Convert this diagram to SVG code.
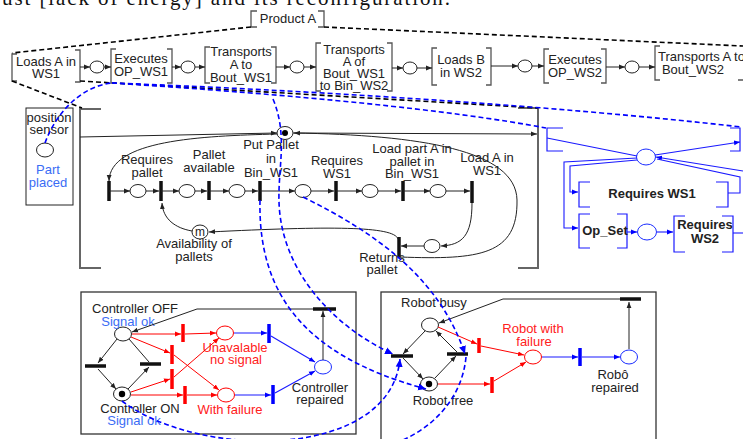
<svg xmlns="http://www.w3.org/2000/svg" width="743" height="439" viewBox="0 0 743 439">
<defs>
<marker id="ak" markerWidth="7" markerHeight="6" refX="6" refY="3" orient="auto" markerUnits="userSpaceOnUse"><path d="M0,0.6 L6,3 L0,5.4z" fill="#222"/></marker>
<marker id="ar" markerWidth="7" markerHeight="6" refX="6" refY="3" orient="auto" markerUnits="userSpaceOnUse"><path d="M0,0.6 L6,3 L0,5.4z" fill="#ff0000"/></marker>
<marker id="ab" markerWidth="7" markerHeight="6" refX="6" refY="3" orient="auto" markerUnits="userSpaceOnUse"><path d="M0,0.6 L6,3 L0,5.4z" fill="#0000ff"/></marker>
<marker id="abd" markerWidth="9" markerHeight="8" refX="8" refY="4" orient="auto" markerUnits="userSpaceOnUse"><path d="M0,0.5 L8,4 L0,7.5z" fill="#0000ff"/></marker>
<style>
text{font-family:"Liberation Sans",Arial,sans-serif;font-size:13px;fill:#222;text-anchor:middle}
.hd{font-family:"Liberation Serif","Times New Roman",serif;font-size:21px;fill:#111;text-anchor:start}
.b{font-weight:bold;fill:#222}
.red{fill:#ff2020}
.lb{fill:#3a6cf5}
.pl{fill:#fff;stroke:#222;stroke-width:1}
.plr{fill:#fff;stroke:#ff0000;stroke-width:1}
.plb{fill:#fff;stroke:#1a2cff;stroke-width:1}
.tk{fill:#000}
.tr{stroke:#111;stroke-width:3.5}
.trr{stroke:#ff0000;stroke-width:3.5}
.trb{stroke:#0000ff;stroke-width:3.5}
.ln{fill:none;stroke:#222;stroke-width:1}
.lr{fill:none;stroke:#ff0000;stroke-width:1}
.lbl{fill:none;stroke:#1a1aff;stroke-width:1.1}
.br{fill:none;stroke:#555;stroke-width:1.3}
.gb{fill:none;stroke:#666;stroke-width:2}
.bb{fill:none;stroke:#1a1aff;stroke-width:1.2}
.box{fill:none;stroke:#333;stroke-width:1.3}
.dk{fill:none;stroke:#000;stroke-width:1.6;stroke-dasharray:5 3}
.db{fill:none;stroke:#0000ff;stroke-width:1.6;stroke-dasharray:5 3}
</style>
</defs>
<rect width="743" height="439" fill="#fff"/>
<text class="hd" x="2" y="5" textLength="448" lengthAdjust="spacing">ust [lack of energy] and its reconfiguration.</text>

<!-- top macro node -->
<g id="product-a">
<path class="br" d="M257,11 H251 V27 H257 M318,11 H324 V27 H318"/>
<text x="288" y="23">Product A</text>
</g>

<!-- top row -->
<g id="n-loadsA">
<path class="br" d="M17,54 H12 V81 H17 M75,50 H80 V82 H75"/>
<text x="46" y="66">Loads A in</text><text x="46" y="78">WS1</text>
</g>
<g id="p-top1"><ellipse class="pl" cx="97" cy="67" rx="7" ry="6"/></g>
<g id="n-execWS1">
<path class="br" d="M116,49 H111 V83 H116 M167,49 H172 V83 H167"/>
<text x="141" y="63">Executes</text><text x="141" y="76">OP_WS1</text>
</g>
<g id="p-top2"><ellipse class="pl" cx="188" cy="67" rx="7" ry="6"/></g>
<g id="n-transA">
<path class="br" d="M210,47 H205 V83 H210 M271,47 H276 V83 H271"/>
<text x="241" y="56">Transports</text><text x="241" y="69">A to</text><text x="241" y="82">Bout_WS1</text>
</g>
<g id="p-top3"><ellipse class="pl" cx="297" cy="67" rx="7" ry="6"/></g>
<g id="n-transAof">
<path class="br" d="M321,43 H316 V91 H321 M387,43 H392 V91 H387"/>
<text x="354" y="54">Transports</text><text x="354" y="66">A of</text><text x="354" y="78">Bout_WS1</text><text x="354" y="90">to Bin_WS2</text>
</g>
<g id="p-top4"><ellipse class="pl" cx="410" cy="68" rx="7" ry="6"/></g>
<g id="n-loadsB">
<path class="br" d="M437,48 H432 V85 H437 M486,48 H491 V85 H486"/>
<text x="461" y="64">Loads B</text><text x="461" y="77">in WS2</text>
</g>
<g id="p-top5"><ellipse class="pl" cx="525" cy="66" rx="7" ry="6"/></g>
<g id="n-execWS2">
<path class="br" d="M549,49 H544 V83 H549 M601,49 H606 V83 H601"/>
<text x="575" y="64">Executes</text><text x="575" y="77">OP_WS2</text>
</g>
<g id="p-top6"><ellipse class="pl" cx="632" cy="67" rx="7" ry="6"/></g>
<g id="n-transA2">
<path class="br" d="M660,46 H655 V80 H660 M738,80 H743"/>
<text x="658" y="61" style="text-anchor:start">Transports A to</text><text x="693" y="74">Bout_WS2</text>
</g>

<!-- Loads A in WS1 subnet -->
<g id="subnet-loadsA">
<path class="gb" d="M101,109 H80 V268 H101 M518,108 H538 V268 H518"/>
</g>
<g id="sensor">
<rect x="26" y="108" width="47" height="97" fill="none" stroke="#222" stroke-width="1"/>
<text x="49" y="122">position</text><text x="49" y="134">sensor</text>
<ellipse class="pl" cx="45" cy="150" rx="8.5" ry="7"/>
<text class="lb" x="48" y="174">Part</text><text class="lb" x="48" y="187">placed</text>
</g>
<g id="t0"><line class="tr" x1="109" y1="181" x2="109" y2="201"/></g>
<g id="p-req-pallet"><ellipse class="pl" cx="138" cy="191" rx="8" ry="6.5"/><text x="147" y="164">Requires</text><text x="147" y="177">pallet</text></g>
<g id="t1"><line class="tr" x1="161" y1="181" x2="161" y2="201"/></g>
<g id="p-pallet-avail"><ellipse class="pl" cx="187" cy="191" rx="8" ry="6.5"/><text x="209" y="159">Pallet</text><text x="209" y="172">available</text></g>
<g id="t2"><line class="tr" x1="209" y1="181" x2="209" y2="200"/></g>
<g id="p-237"><ellipse class="pl" cx="237" cy="191" rx="8" ry="6.5"/></g>
<g id="t-putpallet"><line class="tr" x1="260" y1="181" x2="260" y2="201"/></g>
<g id="p-putpallet"><ellipse class="pl" cx="285" cy="133" rx="8" ry="6.5"/><circle class="tk" cx="285" cy="133" r="3"/>
<text x="271" y="149">Put Pallet</text><text x="271" y="163">in</text><text x="271" y="177">Bin_WS1</text></g>
<g id="p-303"><ellipse class="pl" cx="303" cy="191" rx="8" ry="6.5"/></g>
<g id="t-reqws1"><line class="tr" x1="336" y1="181" x2="336" y2="201"/><text x="337" y="165">Requires</text><text x="337" y="178">WS1</text></g>
<g id="p-370"><ellipse class="pl" cx="370" cy="191" rx="8" ry="6.5"/></g>
<g id="t-loadpart"><line class="tr" x1="403" y1="181" x2="403" y2="201"/><text x="412" y="153">Load part A in</text><text x="412" y="166">pallet in</text><text x="412" y="178">Bin_WS1</text></g>
<g id="p-438"><ellipse class="pl" cx="438" cy="191" rx="8" ry="6.5"/></g>
<g id="t-loadA"><line class="tr" x1="472" y1="181" x2="472" y2="203"/><text x="487" y="162">Load A in</text><text x="487" y="175">WS1</text></g>
<g id="p-432"><ellipse class="pl" cx="432" cy="246" rx="8" ry="6.5"/></g>
<g id="t-returns"><line class="tr" x1="399" y1="237" x2="399" y2="257"/><text x="382" y="262">Returns</text><text x="382" y="274">pallet</text></g>
<g id="p-avail"><ellipse class="pl" cx="200" cy="232" rx="8" ry="7"/><text x="200" y="236" style="font-size:12px">m</text>
<text x="194" y="248">Availability of</text><text x="194" y="261">pallets</text></g>

<!-- blue subnet -->
<g id="subnet-execWS1">
<path class="bb" d="M563,128 H547 V151 H563 M730,128 H740 V151 H730"/>
</g>
<g id="p-blue-hub"><ellipse class="plb" cx="646" cy="157" rx="9.5" ry="8"/></g>
<g id="n-reqws1-blue">
<path class="bb" d="M590,182 H579 V207 H590 M716,182 H728 V207 H716"/>
<text class="b" x="652" y="198">Requires WS1</text>
</g>
<g id="n-opset">
<path class="bb" d="M590,214 H579 V248 H590 M617,214 H627 V248 H617"/>
<text class="b" x="605" y="235">Op_Set</text>
</g>
<g id="p-blue2"><ellipse class="plb" cx="647" cy="232" rx="9.5" ry="8"/></g>
<g id="n-reqws2">
<path class="bb" d="M685,216 H674 V252 H685 M722,216 H733 V252 H722"/>
<text class="b" x="705" y="229">Requires</text><text class="b" x="705" y="243">WS2</text>
</g>

<!-- controller -->
<g id="controller-box"><rect class="box" x="81" y="292" width="275" height="142"/></g>
<g id="c-off"><ellipse class="pl" cx="123" cy="334" rx="8.5" ry="7"/><text x="135" y="313">Controller OFF</text><text class="lb" x="128" y="326">Signal ok</text></g>
<g id="c-on"><ellipse class="pl" cx="122" cy="394" rx="8.5" ry="7"/><circle class="tk" cx="122" cy="394" r="3.2"/><text x="140" y="413">Controller ON</text><text class="lb" x="134" y="425">Signal ok</text></g>
<g id="c-t-left"><line class="tr" x1="85" y1="366" x2="106" y2="366"/></g>
<g id="c-t-right"><line class="tr" x1="140" y1="364" x2="161" y2="364"/></g>
<g id="c-tr-a"><line class="trr" x1="183" y1="324" x2="183" y2="342"/></g>
<g id="c-tr-b"><line class="trr" x1="172" y1="345" x2="172" y2="364"/></g>
<g id="c-tr-c"><line class="trr" x1="172" y1="369" x2="172" y2="389"/></g>
<g id="c-tr-d"><line class="trr" x1="185" y1="386" x2="185" y2="404"/></g>
<g id="c-unav"><ellipse class="plr" cx="225" cy="333" rx="8.5" ry="7"/><text class="red" x="235" y="352">Unavalable</text><text class="red" x="236" y="364">no signal</text></g>
<g id="c-fail"><ellipse class="plr" cx="226" cy="395" rx="8.5" ry="7"/><text class="red" x="230" y="414">With failure</text></g>
<g id="c-tb-e"><line class="trb" x1="269" y1="324" x2="269" y2="343"/></g>
<g id="c-tb-f"><line class="trb" x1="273" y1="385" x2="273" y2="404"/></g>
<g id="c-repaired"><ellipse class="plb" cx="323" cy="367" rx="8.5" ry="7"/><text x="320" y="392">Controller</text><text x="320" y="404">repaired</text></g>
<g id="c-t-top"><line class="tr" x1="313" y1="309" x2="336" y2="309"/></g>

<!-- robot -->
<g id="robot-box"><rect class="box" x="381" y="292" width="275" height="160"/></g>
<g id="r-busy"><ellipse class="pl" cx="430" cy="325" rx="8.5" ry="7"/><text x="434" y="307">Robot busy</text></g>
<g id="r-free"><ellipse class="pl" cx="429" cy="384" rx="8.5" ry="7"/><circle class="tk" cx="429" cy="384" r="3.2"/><text x="443" y="405">Robot free</text></g>
<g id="r-t-left"><line class="tr" x1="391" y1="356" x2="413" y2="356"/></g>
<g id="r-t-right"><line class="tr" x1="447" y1="354" x2="468" y2="354"/></g>
<g id="r-tr-1"><line class="trr" x1="479" y1="338" x2="479" y2="353"/></g>
<g id="r-tr-2"><line class="trr" x1="492" y1="377" x2="492" y2="393"/></g>
<g id="r-fail"><ellipse class="plr" cx="533" cy="357" rx="8.5" ry="7"/><text class="red" x="533" y="333">Robot with</text><text class="red" x="534" y="346">failure</text></g>
<g id="r-tb"><line class="trb" x1="580" y1="348" x2="580" y2="366"/></g>
<g id="r-repaired"><ellipse class="plb" cx="629" cy="357" rx="8.5" ry="7"/><text x="613" y="379">Robô</text><text x="615" y="392">repaired</text></g>
<g id="r-t-top"><line class="tr" x1="620" y1="299" x2="641" y2="299"/></g>

<g id="connectors">
<!-- expansion dashed lines -->
<path class="dk" d="M251,27 L12,53"/>
<path class="dk" d="M324,27 L743,46"/>
<path class="dk" d="M12,81 L82,108"/>
<path class="dk" d="M80,81 L538,108"/>
<!-- top row arcs -->
<path class="ln" marker-end="url(#ak)" d="M80,67 H90"/>
<path class="ln" marker-end="url(#ak)" d="M104,67 H111"/>
<path class="ln" marker-end="url(#ak)" d="M172,67 H181"/>
<path class="ln" marker-end="url(#ak)" d="M195,67 H205"/>
<path class="ln" marker-end="url(#ak)" d="M276,67 H290"/>
<path class="ln" marker-end="url(#ak)" d="M304,67 H316"/>
<path class="ln" marker-end="url(#ak)" d="M392,68 H403"/>
<path class="ln" marker-end="url(#ak)" d="M417,68 H432"/>
<path class="ln" marker-end="url(#ak)" d="M491,66 H518"/>
<path class="ln" marker-end="url(#ak)" d="M532,66 H544"/>
<path class="ln" marker-end="url(#ak)" d="M606,67 H625"/>
<path class="ln" marker-end="url(#ak)" d="M639,67 H655"/>
<!-- subnet arcs -->
<path class="ln" marker-end="url(#ak)" d="M80,137 L277,133"/>
<path class="ln" marker-end="url(#ak)" d="M293,133 L537,134"/>
<path class="ln" marker-end="url(#ak)" d="M277,134 C200,136 110,140 109,181"/>
<path class="ln" marker-end="url(#ak)" d="M109,191 H130"/>
<path class="ln" marker-end="url(#ak)" d="M146,191 H159"/>
<path class="ln" marker-end="url(#ak)" d="M161,191 H179"/>
<path class="ln" marker-end="url(#ak)" d="M195,191 H207"/>
<path class="ln" marker-end="url(#ak)" d="M209,191 H229"/>
<path class="ln" marker-end="url(#ak)" d="M245,191 H258"/>
<path class="ln" marker-end="url(#ak)" d="M260,191 H295"/>
<path class="ln" marker-end="url(#ak)" d="M311,191 H334"/>
<path class="ln" marker-end="url(#ak)" d="M336,191 H362"/>
<path class="ln" marker-end="url(#ak)" d="M378,191 H401"/>
<path class="ln" marker-end="url(#ak)" d="M403,191 H430"/>
<path class="ln" marker-end="url(#ak)" d="M446,191 H470"/>
<path class="ln" marker-end="url(#ak)" d="M472,203 C472,236 462,245 441,246"/>
<path class="ln" marker-end="url(#ak)" d="M424,246 H401"/>
<path class="ln" marker-end="url(#ak)" d="M398,239 C394,226 330,226 209,232"/>
<path class="ln" marker-end="url(#ak)" d="M192,231 C175,228 163,219 162,203"/>
<path class="ln" marker-end="url(#ak)" d="M400,257 C480,260 518,255 517,200 C516,150 420,135 294,133"/>
<!-- blue subnet arcs -->
<path class="lbl" d="M547,138 L637,156"/>
<path class="lbl" marker-end="url(#ab)" d="M655,155 L740,142"/>
<path class="lbl" marker-end="url(#ab)" d="M637,158 L564,162 V228 H578"/>
<path class="lbl" marker-end="url(#ab)" d="M637,160 L570,166 V192 H578"/>
<path class="lbl" marker-end="url(#ab)" d="M743,171 L656,157"/>
<path class="lbl" d="M728,193 H740 V177 L657,159"/>
<path class="lbl" marker-end="url(#ab)" d="M627,232 H637"/>
<path class="lbl" marker-end="url(#ab)" d="M657,232 H673"/>
<path class="lbl" d="M733,233 H743"/>
<!-- controller arcs -->
<path class="ln" marker-end="url(#ak)" d="M117,339 L98,363"/>
<path class="ln" marker-end="url(#ak)" d="M98,369 L116,389"/>
<path class="ln" marker-end="url(#ak)" d="M128,389 L149,367"/>
<path class="ln" d="M149,362 L129,339"/>
<path class="lr" marker-end="url(#ar)" d="M132,334 H181"/>
<path class="lr" marker-end="url(#ar)" d="M185,334 L216,333"/>
<path class="lr" marker-end="url(#ar)" d="M131,337 L170,353"/>
<path class="lr" marker-end="url(#ar)" d="M174,355 L219,390"/>
<path class="lr" marker-end="url(#ar)" d="M131,392 L170,379"/>
<path class="lr" marker-end="url(#ar)" d="M174,377 L219,338"/>
<path class="lr" marker-end="url(#ar)" d="M131,395 H183"/>
<path class="lr" marker-end="url(#ar)" d="M187,395 H217"/>
<path class="lbl" marker-end="url(#ab)" d="M234,333 H267"/>
<path class="lbl" marker-end="url(#ab)" d="M235,395 H271"/>
<path class="lbl" marker-end="url(#ab)" d="M271,336 L315,362"/>
<path class="lbl" marker-end="url(#ab)" d="M275,393 L315,371"/>
<path class="ln" marker-end="url(#ak)" d="M323,360 V311"/>
<path class="ln" marker-end="url(#ak)" d="M313,309 H197 L132,332"/>
<!-- robot arcs -->
<path class="ln" marker-end="url(#ak)" d="M425,331 L403,354"/>
<path class="ln" marker-end="url(#ak)" d="M403,358 L423,379"/>
<path class="ln" marker-end="url(#ak)" d="M435,378 L456,356"/>
<path class="ln" marker-end="url(#ak)" d="M457,352 L436,331"/>
<path class="lr" marker-end="url(#ar)" d="M438,327 L477,344"/>
<path class="lr" marker-end="url(#ar)" d="M481,346 L524,355"/>
<path class="lr" marker-end="url(#ar)" d="M438,384 H490"/>
<path class="lr" marker-end="url(#ar)" d="M494,381 L526,362"/>
<path class="lbl" marker-end="url(#ab)" d="M542,357 H578"/>
<path class="lbl" marker-end="url(#ab)" d="M582,357 H620"/>
<path class="ln" marker-end="url(#ak)" d="M629,349 V302"/>
<path class="ln" marker-end="url(#ak)" d="M620,299 H503 L439,323"/>
<!-- blue dashed relations -->
<path class="db" d="M45,143 C55,115 80,86 112,83"/>
<path class="db" d="M112,83 C300,90 550,105 741,127"/>
<path class="db" d="M112,83 C300,95 450,110 546,128"/>
<path class="db" marker-end="url(#abd)" d="M273,99 C290,140 275,175 280,215 C288,280 340,330 393,354"/>
<path class="db" marker-end="url(#abd)" d="M260,200 C258,290 300,355 426,389"/>
<path class="db" marker-end="url(#abd)" d="M303,197 C380,235 440,280 465,354"/>
<path class="db" marker-end="url(#abd)" d="M122,401 C200,460 390,460 400,359"/>
<path class="db" d="M466,357 C462,400 430,432 390,445"/>
</g>
</svg>
